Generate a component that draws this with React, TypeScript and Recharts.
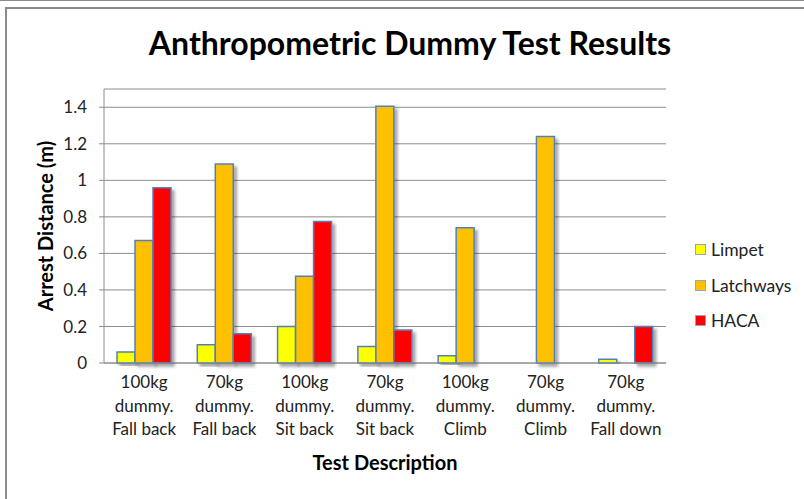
import React from 'react';
import { BarChart, Bar, XAxis, YAxis, CartesianGrid } from 'recharts';

// values
const categories = [
  '100kg dummy. Fall back',
  '70kg dummy. Fall back',
  '100kg dummy. Sit back',
  '70kg dummy. Sit back',
  '100kg dummy. Climb',
  '70kg dummy. Climb',
  '70kg dummy. Fall down',
];
const limpet = [0.06, 0.1, 0.2, 0.09, 0.04, null, 0.02];
const latchways = [0.67, 1.09, 0.475, 1.405, 0.74, 1.24, null];
const haca = [0.96, 0.16, 0.775, 0.18, null, null, 0.2];
const yTicks = [0, 0.2, 0.4, 0.6, 0.8, 1, 1.2, 1.4];

const series = [
  { key: 'Limpet', color: '#ffff00' },
  { key: 'Latchways', color: '#ffc000' },
  { key: 'HACA', color: '#ff0000' },
];

const data = categories.map((name, i) => ({
  name,
  Limpet: limpet[i],
  Latchways: latchways[i],
  HACA: haca[i],
}));

const FONT = 'Lato, "Open Sans", sans-serif';
const BORDER = '#4f81bd';

function CategoryTick(props: any) {
  const { x, y, payload } = props;
  const [first, rest] = payload.value.split('. ');
  const [w, d] = first.split(' ');
  const lines = [w, d + '.', rest];
  return (
    <text x={x} y={y} textAnchor="middle" fill="#222" fontSize={17} fontFamily={FONT}>
      {lines.map((l, i) => (
        <tspan key={i} x={x} dy={i === 0 ? 17 : 23.5}>{l}</tspan>
      ))}
    </text>
  );
}

export default function App() {
  return (
    <div style={{ position: 'absolute', left: 0, top: 0, width: 804, height: 499, background: '#fff', overflow: 'hidden', fontFamily: FONT }}>
      {/* page frame lines */}
      <div style={{ position: 'absolute', left: 0, top: 0, width: 804, height: 1, background: '#8a8a8a' }} />
      <div style={{ position: 'absolute', left: 5, top: 7, width: 820, height: 520, border: '2px solid #8a8a8a', boxSizing: 'border-box' }} />

      <div style={{ position: 'absolute', left: 0, top: 23, width: 820, textAlign: 'center', fontSize: 32, fontWeight: 700, color: '#000' }}>
        Anthropometric Dummy Test Results
      </div>

      <div style={{ position: 'absolute', left: 0, top: 0 }}>
        <BarChart
          width={804}
          height={499}
          data={data}
          margin={{ top: 89, right: 138, bottom: 21, left: 0 }}
          barGap={0}
          barSize={18}
        >
          <defs>
            <filter id="barShadow" x="-30%" y="-10%" width="160%" height="130%">
              <feDropShadow dx="3" dy="3" stdDeviation="1.8" floodColor="#000" floodOpacity="0.35" />
            </filter>
          </defs>
          <CartesianGrid vertical={false} stroke="#8c8c8c" strokeWidth={1} />
          <XAxis
            dataKey="name"
            tickLine={false}
            axisLine={{ stroke: '#8c8c8c' }}
            height={115}
            interval={0}
            tick={<CategoryTick />}
            label={{ value: 'Test Description', position: 'insideBottom', offset: 8, fontSize: 20, fontWeight: 700, fill: '#000', fontFamily: FONT }}
          />
          <YAxis
            width={104}
            domain={[0, 1.5]}
            ticks={yTicks}
            interval={0}
            tickSize={5}
            tickMargin={12}
            tickLine={{ stroke: '#8c8c8c' }}
            axisLine={{ stroke: '#8c8c8c' }}
            tick={{ fill: '#222', fontSize: 17, fontFamily: FONT }}
            label={{ value: 'Arrest Distance (m)', angle: -90, position: 'center', dx: -6, fontSize: 20, fontWeight: 700, fill: '#000', fontFamily: FONT }}
          />
          {series.map(s => (
            <Bar
              key={s.key}
              dataKey={s.key}
              fill={s.color}
              stroke={BORDER}
              strokeWidth={1.5}
              style={{ filter: 'url(#barShadow)' }}
              isAnimationActive={false}
            />
          ))}
        </BarChart>
      </div>

      {/* legend */}
      <div style={{ position: 'absolute', left: 695, top: 232 }}>
        {series.map(s => (
          <div key={s.key} style={{ display: 'flex', alignItems: 'center', height: 35.5, fontSize: 17.5, color: '#222' }}>
            <span style={{ width: 9, height: 9, background: s.color, border: '1.5px solid #8ea9c8', marginRight: 5, display: 'inline-block' }} />
            {s.key}
          </div>
        ))}
      </div>
    </div>
  );
}
